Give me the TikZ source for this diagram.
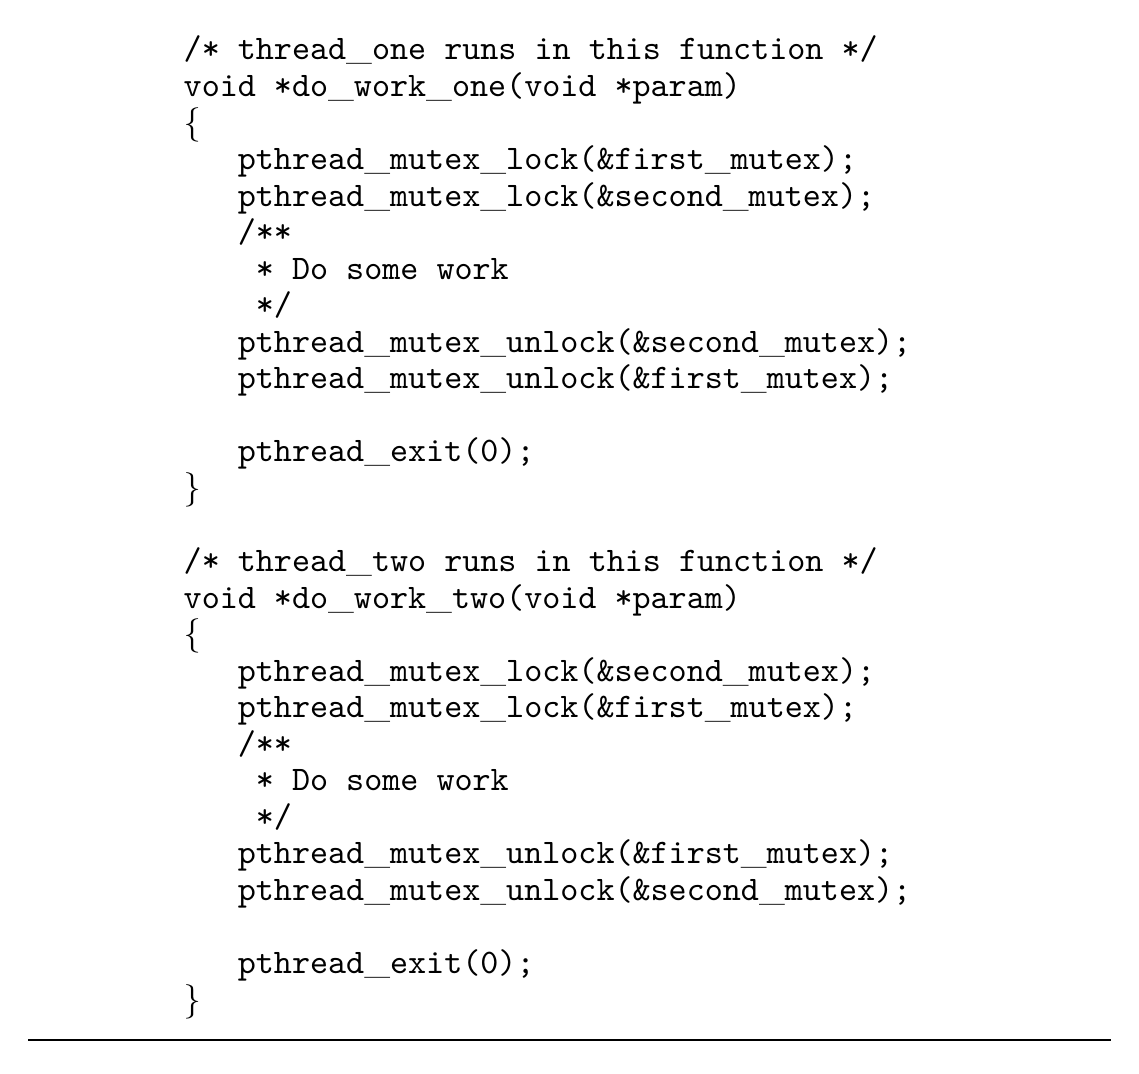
\documentclass[tikz,border=0pt]{standalone}
\usepackage{tikz}
\usetikzlibrary{positioning}
\newcommand{\lowbar}{\textrm{\_}}

\begin{document}
\begin{tikzpicture}[x=0.2907pt, y=-0.2907pt]
        \tikzstyle{code} = [anchor=base west, inner sep=0pt, font=\ttfamily]
        \useasboundingbox (0,0) rectangle (1139,1073);
        % listing, one node per printed line
        \foreach \n/\ind/\txt in {
            1/0/{/* thread\lowbar one runs in this function */},
            2/0/{void *do\lowbar work\lowbar one(void *param)},
            3/0/{\textrm{\{}},
            4/3/{pthread\lowbar mutex\lowbar lock(\&first\lowbar mutex);},
            5/3/{pthread\lowbar mutex\lowbar lock(\&second\lowbar mutex);},
            6/3/{/**},
            7/4/{* Do some work},
            8/4/{*/},
            9/3/{pthread\lowbar mutex\lowbar unlock(\&second\lowbar mutex);},
            10/3/{pthread\lowbar mutex\lowbar unlock(\&first\lowbar mutex);},
            12/3/{pthread\lowbar exit(0);},
            13/0/{\textrm{\}}},
            15/0/{/* thread\lowbar two runs in this function */},
            16/0/{void *do\lowbar work\lowbar two(void *param)},
            17/0/{\textrm{\{}},
            18/3/{pthread\lowbar mutex\lowbar lock(\&second\lowbar mutex);},
            19/3/{pthread\lowbar mutex\lowbar lock(\&first\lowbar mutex);},
            20/3/{/**},
            21/4/{* Do some work},
            22/4/{*/},
            23/3/{pthread\lowbar mutex\lowbar unlock(\&first\lowbar mutex);},
            24/3/{pthread\lowbar mutex\lowbar unlock(\&second\lowbar mutex);},
            26/3/{pthread\lowbar exit(0);},
            27/0/{\textrm{\}}}}
            \node[code] (line\n) at ({183+18.06*\ind}, {60+36.54*(\n-1)}) {\txt};

        \coordinate (ruleL) at (28,1040);
        \coordinate (ruleR) at (1111,1040);
        \draw[line width=0.6pt] (ruleL) -- (ruleR);
    \end{tikzpicture}
\end{document}
